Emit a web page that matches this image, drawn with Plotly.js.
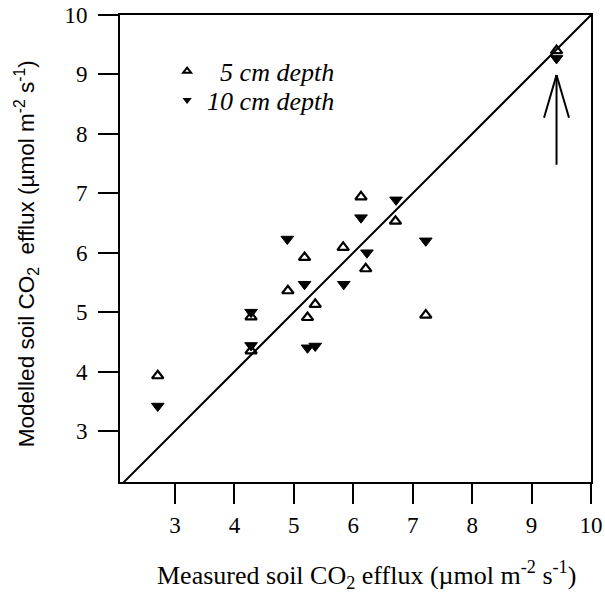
<!DOCTYPE html>
<html>
<head>
<meta charset="utf-8">
<script src="https://cdn.plot.ly/plotly-3.0.1.min.js"></script>
<style>html,body{margin:0;padding:0;background:#fff;}#chart{width:605px;height:592px;}</style>
</head>
<body>
<div id="chart"></div>
<script>
// Measured soil CO2 efflux (x) and modelled efflux at two depths (y)
const measured5  = [2.71, 4.28, 4.28, 4.90, 5.18, 5.23, 5.36, 5.83, 6.13, 6.21, 6.71, 7.22, 9.42];
const modelled5  = [3.93, 4.92, 4.35, 5.36, 5.92, 4.91, 5.13, 6.09, 6.94, 5.73, 6.53, 4.95, 9.40];
const measured10 = [2.71, 4.28, 4.28, 4.89, 5.18, 5.23, 5.36, 5.84, 6.13, 6.23, 6.72, 7.22, 9.42];
const modelled10 = [3.42, 5.00, 4.44, 6.23, 5.47, 4.40, 4.43, 5.47, 6.59, 6.00, 6.89, 6.20, 9.27];
const oneToOne = [2, 10];
const tickVals = [3, 4, 5, 6, 7, 8, 9, 10];
const tickText = ['3', '4', '5', '6', '7', '8', '9', '10'];
const seriesNames = ['\u20025 cm depth', '10 cm depth'];
const xTitle = 'Measured soil CO<sub>2</sub> efflux (\u00b5mol m<sup>-2</sup> s<sup>-1</sup>)';
const yTitle = 'Modelled soil CO<sub>2</sub>  efflux (\u00b5mol m<sup>-2</sup> s<sup>-1</sup>)';
const arrowX = 9.42;
const arrowTail = 7.48;
const arrowTip = 8.99;

const serif = 'Liberation Serif, Times New Roman, serif';
const sans = 'Liberation Sans, Arial, sans-serif';

const traces = [
  {x: oneToOne, y: oneToOne, mode: 'lines', line: {color: '#000', width: 2}, showlegend: false, hoverinfo: 'skip'},
  {x: measured5, y: modelled5, mode: 'markers', showlegend: false,
   marker: {symbol: 'triangle-up-open', size: 10, color: '#000', line: {width: 2.2, color: '#000'}}},
  {x: measured10, y: modelled10, mode: 'markers', showlegend: false,
   marker: {symbol: 'triangle-down', size: 11, color: '#000', line: {width: 1, color: '#000'}}},
  // legend entries
  {x: [null], y: [null], mode: 'markers', name: seriesNames[0], legend: 'legend',
   marker: {symbol: 'triangle-up-open', size: 7, color: '#000', line: {width: 2, color: '#000'}}},
  {x: [null], y: [null], mode: 'markers', name: seriesNames[1], legend: 'legend2',
   marker: {symbol: 'triangle-down', size: 8, color: '#000'}}
];

const axisCommon = {
  showline: true, linecolor: '#000', linewidth: 2, mirror: true,
  ticks: 'outside', ticklen: 20, tickwidth: 2, tickcolor: '#000',
  showgrid: false, zeroline: false,
  tickmode: 'array', tickvals: tickVals, ticktext: tickText,
  tickfont: {family: serif, size: 23, color: '#000'},
  automargin: false
};

const legendFont = {family: serif, size: 26, color: '#000', style: 'italic'};
const headHalf = 0.21, headLen = 0.72;
const layout = {
  width: 605, height: 592,
  margin: {l: 120, r: 14, t: 15, b: 110},
  paper_bgcolor: '#fff', plot_bgcolor: '#fff',
  xaxis: Object.assign({}, axisCommon, {range: [2.075, 10], ticklabelstandoff: 1}),
  yaxis: Object.assign({}, axisCommon, {range: [2.142, 10], ticklabelstandoff: 6}),
  showlegend: true,
  legend: {x: 0.1, y: 0.93, xanchor: 'left', yanchor: 'top', bgcolor: 'rgba(0,0,0,0)', font: legendFont},
  legend2: {x: 0.1, y: 0.868, xanchor: 'left', yanchor: 'top', bgcolor: 'rgba(0,0,0,0)', font: legendFont},
  annotations: [
    {text: xTitle, xref: 'paper', yref: 'paper', x: 0.523, y: -0.2, xanchor: 'center', yanchor: 'middle',
     showarrow: false, font: {family: serif, size: 26, color: '#000'}},
    {text: yTitle, xref: 'paper', yref: 'paper', x: -0.1996, y: 0.49, xanchor: 'center', yanchor: 'middle',
     textangle: -90, showarrow: false, font: {family: sans, size: 22.5, color: '#000'}}
  ],
  shapes: [
    {type: 'line', xref: 'x', yref: 'y', x0: arrowX, x1: arrowX, y0: arrowTail, y1: arrowTip, line: {color: '#000', width: 2}},
    {type: 'line', xref: 'x', yref: 'y', x0: arrowX - headHalf, x1: arrowX, y0: arrowTip - headLen, y1: arrowTip, line: {color: '#000', width: 2}},
    {type: 'line', xref: 'x', yref: 'y', x0: arrowX + headHalf, x1: arrowX, y0: arrowTip - headLen, y1: arrowTip, line: {color: '#000', width: 2}}
  ]
};

Plotly.newPlot('chart', traces, layout, {displayModeBar: false, staticPlot: true});
</script>
</body>
</html>
